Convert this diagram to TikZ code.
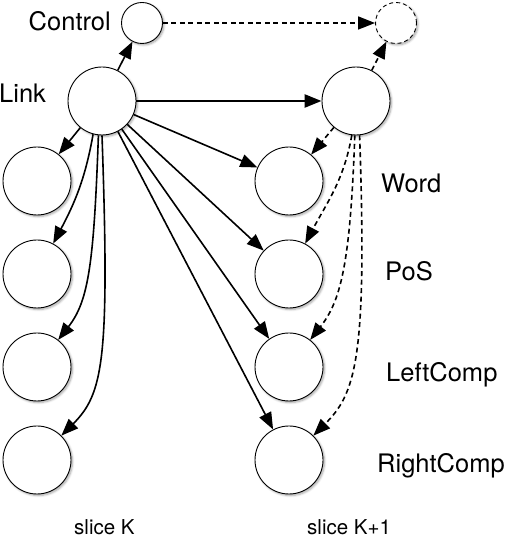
\documentclass[tikz,border=0pt]{standalone}
\usepackage{fontspec}
\setmainfont{TeX Gyre Heros}
\usetikzlibrary{positioning, arrows.meta, shadows.blur}

\begin{document}
\begin{tikzpicture}[x=1pt, y=1pt,
	estado/.style={shape=circle, draw=black, line width=0.9pt, fill=white, minimum size=68pt, inner sep=0pt,
		blur shadow={shadow xshift=1.5pt, shadow yshift=-1.5pt, shadow blur steps=6, shadow opacity=35}},
	chico/.style={estado, minimum size=41pt},
	flecha/.style={line width=1.6pt, -{Triangle[length=17pt, width=13pt]}},
	punteada/.style={flecha, dash pattern=on 5pt off 3.5pt},
	etiqueta/.style={inner sep=0pt, font=\fontsize{25.5}{30}\selectfont},
	corte/.style={inner sep=0pt, font=\fontsize{20.5}{24}\selectfont}]
	
	\useasboundingbox (0,0) rectangle (510,538);
	
	% Nodos de control
	\node[chico] (Control) at (142,515) {};
	\node[chico, dash pattern=on 4pt off 3pt] (NextControl) at (396,515) {};
	
	% Nodos de enlace
	\node[estado] (Link) at (102,437) {};
	\node[estado] (NextLink) at (356,437) {};
	
	% Columnas de cada slice
	\foreach \y/\n in {357/1, 264/2, 171/3, 78/4} {
		\node[estado] (Left\n) at (37,\y) {};
		\node[estado] (Right\n) at (289,\y) {};
	}
	
	% Conexiones de control
	\draw[flecha] (Link) -- (Control);
	\draw[punteada] (Control) -- (NextControl);
	\draw[punteada] (NextLink) -- (NextControl);
	\draw[flecha, line width=2.6pt] (Link) -- (NextLink);
	
	% Conecto Link con su slice
	\draw[flecha] (Link) -- (Left1);
	\draw[flecha] (Link.-105) to[out=-100, in=62] (Left2);
	\draw[flecha] (Link.-96) to[out=-92, in=52, out looseness=1.6, in looseness=0.6] (Left3);
	\draw[flecha] (Link.-90) to[out=-88, in=45, out looseness=1.9, in looseness=0.5] (Left4);
	
	% Conecto Link con el slice siguiente
	\foreach \n in {1,...,4} {
		\draw[flecha] (Link) -- (Right\n);
	}
	
	% Conecto el Link siguiente con su slice
	\draw[punteada] (NextLink) -- (Right1);
	\draw[punteada] (NextLink.-97) to[out=-100, in=62] (Right2);
	\draw[punteada] (NextLink.-92) to[out=-92, in=52, out looseness=1.6, in looseness=0.6] (Right3);
	\draw[punteada] (NextLink.-84) to[out=-88, in=45, out looseness=1.9, in looseness=0.5] (Right4);
	
	% Etiquetas
	\node[etiqueta, anchor=base east] (ControlLabel) at (111,507) {Control};
	\node[etiqueta, anchor=base west] (LinkLabel) at (-1,435) {Link};
	\node[etiqueta, anchor=base west] (WordLabel) at (381,345) {Word};
	\node[etiqueta, anchor=base west] (PoSLabel) at (385,257) {PoS};
	\node[etiqueta, anchor=base west] (LeftLabel) at (386,156) {LeftComp};
	\node[etiqueta, anchor=base west] (RightLabel) at (377,65) {RightComp};
	
	\node[corte, anchor=base west] (SliceK) at (74,3) {slice K};
	\node[corte, anchor=base west] (SliceNext) at (307,3) {slice K+1};
	
\end{tikzpicture}
\end{document}
